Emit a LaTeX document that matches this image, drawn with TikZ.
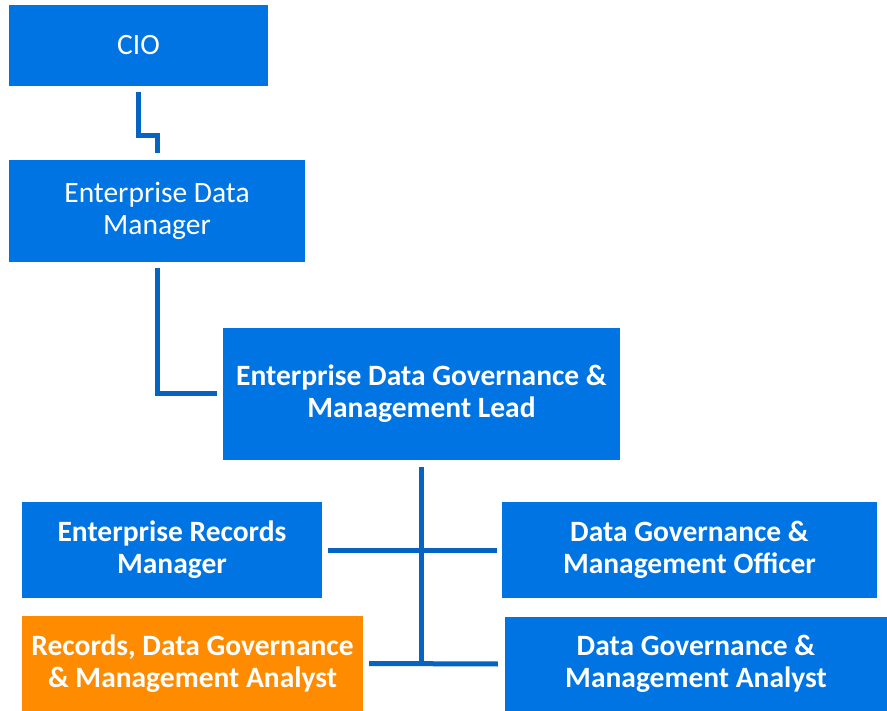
\documentclass[tikz,border=0pt]{standalone}
\usepackage{fontspec}
\setmainfont{Carlito}
\usetikzlibrary{calc}
\definecolor{boxblue}{RGB}{0,116,226}
\definecolor{linkblue}{RGB}{5,99,193}
\definecolor{boxorange}{RGB}{255,140,0}
\begin{document}
\begin{tikzpicture}[x=1pt,y=-1pt,
  unit/.style={rectangle,fill=boxblue,text=white,align=center,inner sep=0pt,
    font=\fontsize{29.5}{32}\selectfont},
  role/.style={unit,font=\fontsize{29.5}{32}\selectfont\bfseries},
  link/.style={draw=linkblue,line width=5pt}]
\useasboundingbox (0,0) rectangle (887,711);
\fill[white] (0,0) rectangle (887,711);

% org units
\node[unit,minimum width=259pt,minimum height=81pt] (cio) at (138.5,45.5) {CIO};
\node[unit,minimum width=296pt,minimum height=102pt] (edm) at (157,211) {Enterprise Data\\Manager};
\node[role,minimum width=397pt,minimum height=132pt] (lead) at (421.5,394) {Enterprise Data Governance \&\\Management Lead};
\node[role,minimum width=300pt,minimum height=96pt] (erm) at (172,550) {Enterprise Records\\Manager};
\node[role,minimum width=375pt,minimum height=96pt] (dgmo) at (689.5,550) {Data Governance \&\\Management Officer};
\node[role,fill=boxorange,minimum width=341pt,minimum height=95pt] (rdgma) at (192.5,663.5) {Records, Data Governance\\\& Management Analyst};
\node[role,minimum width=382pt,minimum height=94pt] (dgma) at (696,664) {Data Governance \&\\Management Analyst};

% reporting lines
\draw[link] ($(cio.south)+(0,6)$) -- ++(0,43) -| ($(edm.north)+(0,-7)$);
\draw[link] ($(edm.south)+(0,6)$) |- ($(lead.west)+(-6,0)$);
\draw[link] ($(lead.south)+(0,7)$) -- (lead.south |- rdgma.center);
\draw[link] ($(erm.east)+(6,0)$) -- ($(dgmo.west)+(-5,0)$);
\draw[link] ($(rdgma.east)+(6,0)$) -- ($(dgma.west)+(-7,0)$);
\end{tikzpicture}
\end{document}
